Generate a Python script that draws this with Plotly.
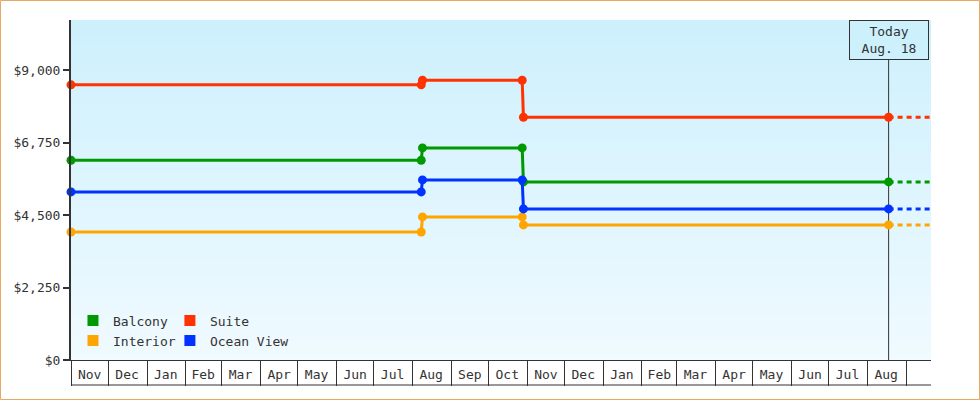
import base64
import struct
import zlib

import plotly.graph_objects as go

# price history (USD)
dates = ["2015-11-01", "2016-08-08", "2016-08-09", "2016-10-28", "2016-10-29", "2017-08-18"]
balcony = [6204, 6204, 6588, 6588, 5531, 5531]
suite = [8546, 8546, 8690, 8690, 7540, 7540]
interior = [3977, 3977, 4444, 4444, 4195, 4195]
ocean_view = [5220, 5220, 5593, 5593, 4692, 4692]

today = "2017-08-18"
axis_end = "2017-09-21"

# month labels sit mid-month, boxes are drawn at month starts
month_mids = ["2015-11-16", "2015-12-16", "2016-01-16", "2016-02-15", "2016-03-16",
              "2016-04-16", "2016-05-16", "2016-06-16", "2016-07-16", "2016-08-16",
              "2016-09-16", "2016-10-16", "2016-11-16", "2016-12-16", "2017-01-16",
              "2017-02-15", "2017-03-16", "2017-04-16", "2017-05-16", "2017-06-16",
              "2017-07-16", "2017-08-16"]
month_labels = ["Nov", "Dec", "Jan", "Feb", "Mar", "Apr", "May", "Jun", "Jul", "Aug",
                "Sep", "Oct", "Nov", "Dec", "Jan", "Feb", "Mar", "Apr", "May", "Jun",
                "Jul", "Aug"]

y_ticks = [0, 2250, 4500, 6750, 9000]
y_labels = ["$0", "$2,250", "$4,500", "$6,750", "$9,000"]

FONT = "DejaVu Sans Mono"
INK = "#333333"


def gradient_png(top, bottom, h=340):
    raw = b""
    for i in range(h):
        t = i / (h - 1)
        px = bytes(round(a + (b - a) * t) for a, b in zip(top, bottom))
        raw += b"\x00" + px

    def chunk(tag, data):
        return (struct.pack(">I", len(data)) + tag + data
                + struct.pack(">I", zlib.crc32(tag + data) & 0xffffffff))

    png = (b"\x89PNG\r\n\x1a\n"
           + chunk(b"IHDR", struct.pack(">IIBBBBB", 1, h, 8, 2, 0, 0, 0))
           + chunk(b"IDAT", zlib.compress(raw))
           + chunk(b"IEND", b""))
    return "data:image/png;base64," + base64.b64encode(png).decode()


series = [
    ("Balcony", balcony, "#009900", "legend"),
    ("Suite", suite, "#ff3300", "legend2"),
    ("Interior", interior, "#ffa500", "legend"),
    ("Ocean View", ocean_view, "#0033ff", "legend2"),
]

fig = go.Figure()
for name, vals, color, leg in series:
    fig.add_trace(go.Scatter(
        x=dates, y=vals, mode="lines+markers", showlegend=False,
        line=dict(color=color, width=3), marker=dict(color=color, size=9),
        cliponaxis=False, hoverinfo="skip"))
    fig.add_trace(go.Scatter(
        x=[today, axis_end], y=[vals[-1], vals[-1]], mode="lines", showlegend=False,
        line=dict(color=color, width=3, dash="5px,4px"), hoverinfo="skip"))

# legend swatches
for name, vals, color, leg in series:
    fig.add_trace(go.Scatter(
        x=[None], y=[None], mode="markers", name=name, legend=leg,
        marker=dict(symbol="square", size=11, color=color)))

legend_style = dict(bgcolor="rgba(0,0,0,0)", font=dict(family=FONT, size=13, color=INK),
                    yanchor="top", xanchor="left", y=0.16, tracegroupgap=0)

fig.update_layout(
    width=980, height=400,
    margin=dict(l=71, r=49, t=20, b=40),
    paper_bgcolor="white", plot_bgcolor="white",
    font=dict(family=FONT, size=13, color=INK),
    legend=dict(x=0.0023, **legend_style),
    legend2=dict(x=0.115, **legend_style),
    xaxis=dict(
        type="date", range=[dates[0], axis_end],
        tickmode="array", tickvals=month_mids, ticktext=month_labels,
        ticks="", ticklabelstandoff=2,
        minor=dict(ticks="outside", ticklen=25, tickwidth=1, tickcolor=INK,
                   dtick="M1", tick0=dates[0], showgrid=False),
        showline=True, linecolor=INK, linewidth=1, showgrid=False, zeroline=False,
    ),
    yaxis=dict(
        range=[0, 10560], tickmode="array", tickvals=y_ticks, ticktext=y_labels,
        ticks="outside", ticklen=6, tickwidth=2, tickcolor=INK,
        showline=True, linecolor=INK, linewidth=2, showgrid=False, zeroline=False,
    ),
    images=[dict(source=gradient_png((205, 240, 253), (240, 250, 255)),
                 xref="paper", yref="paper", x=0, y=1, sizex=1, sizey=1,
                 xanchor="left", yanchor="top", sizing="stretch", layer="below")],
    shapes=[
        dict(type="line", xref="x", yref="paper", x0=today, x1=today, y0=0, y1=1,
             line=dict(color=INK, width=1), layer="between"),
        dict(type="line", xref="paper", yref="paper", x0=0, x1=1,
             y0=-25 / 340, y1=-25 / 340, line=dict(color=INK, width=1)),
        dict(type="rect", xref="paper", yref="paper",
             x0=-70.5 / 860, x1=1 + 48.5 / 860, y0=-39.5 / 340, y1=1 + 19.5 / 340,
             line=dict(color="#e8a862", width=1)),
    ],
    annotations=[dict(
        x=today, xref="x", y=1, yref="paper", xanchor="center", yanchor="top",
        text="Today<br>Aug. 18", showarrow=False, align="center",
        font=dict(family=FONT, size=13, color=INK),
        bgcolor="#cdf0fd", bordercolor=INK, borderwidth=1, borderpad=1,
        width=76, height=36,
    )],
)

fig.write_html("out.html", config={"displayModeBar": False},
               post_script="document.body.style.margin='0';")
